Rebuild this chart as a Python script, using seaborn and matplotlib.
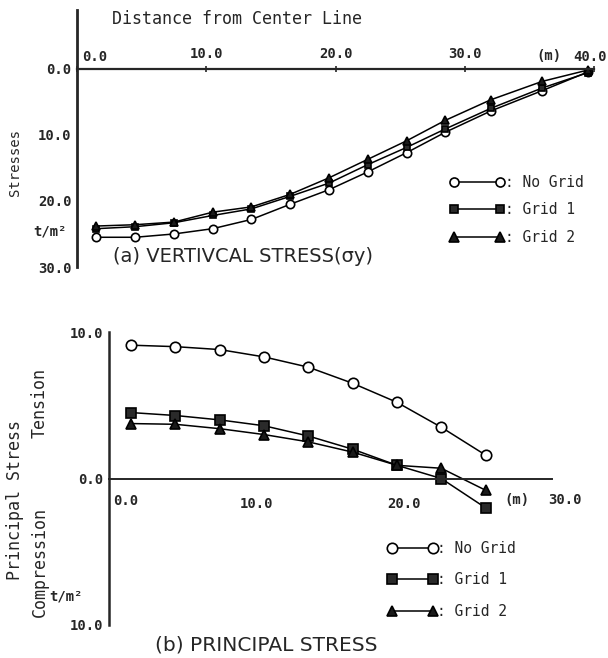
import matplotlib
matplotlib.use("Agg")
import matplotlib.pyplot as plt
import seaborn as sns
import pandas as pd
from matplotlib.lines import Line2D

# values
x_top = [1.5, 4.5, 7.5, 10.5, 13.5, 16.5, 19.5, 22.5, 25.5, 28.5, 32.0, 36.0, 39.5]
no_grid_top = [25.5, 25.5, 25.0, 24.2, 22.8, 20.5, 18.3, 15.6, 12.7, 9.6, 6.4, 3.3, 0.5]
grid1_top = [24.2, 23.9, 23.3, 22.2, 21.2, 19.3, 17.3, 14.5, 11.9, 9.1, 6.0, 2.9, 0.6]
grid2_top = [23.8, 23.6, 23.2, 21.7, 20.9, 19.0, 16.5, 13.7, 10.9, 7.8, 4.7, 1.9, 0.2]

x_bot = [1.5, 4.5, 7.5, 10.5, 13.5, 16.5, 19.5, 22.5, 25.5]
no_grid_bot = [9.1, 9.0, 8.8, 8.3, 7.6, 6.5, 5.2, 3.5, 1.6]
grid1_bot = [4.5, 4.3, 4.0, 3.6, 2.9, 2.0, 0.9, 0.0, -2.0]
grid2_bot = [3.75, 3.7, 3.4, 3.0, 2.5, 1.8, 0.9, 0.7, -0.8]

series_names = ["No Grid", "Grid 1", "Grid 2"]
top_ticks = [0, 10, 20, 30, 40]
bot_ticks = [0, 10, 20, 30]

sns.set_style("white")
plt.rcParams["font.family"] = ["DejaVu Sans Mono", "DejaVu Sans"]

W, H = 608, 658


def styles(size):
    return {
        "No Grid": dict(marker="o", markerfacecolor="white", markeredgecolor="black", markersize=size),
        "Grid 1": dict(marker="s", markerfacecolor="#2a2a2a", markeredgecolor="black", markersize=size - 1),
        "Grid 2": dict(marker="^", markerfacecolor="#1a1a1a", markeredgecolor="black", markersize=size),
    }


def draw_series(ax, x, ys, size):
    st = styles(size)
    for name, y in zip(series_names, ys):
        df = pd.DataFrame({"x": x, "y": y})
        sns.lineplot(data=df, x="x", y="y", ax=ax, color="black", linewidth=1.1,
                     sort=False, markeredgewidth=1.2, clip_on=False, **st[name])


def add_legend(ax, loc, size, hl, spacing):
    st = styles(size)
    handles = [Line2D([0], [0], color="black", linewidth=1.1, markeredgewidth=1.2,
                      **st[n]) for n in series_names]
    ax.legend(handles, [": " + n for n in series_names], loc="center left",
              bbox_to_anchor=loc, bbox_transform=ax.figure.transFigure,
              frameon=False, numpoints=2, handlelength=hl, borderpad=0,
              handletextpad=0.0, labelspacing=spacing,
              prop={"family": "DejaVu Sans Mono", "size": 10.5})


def ftext(x, y, s, **kw):
    # place text by pixel position of the 608x658 picture
    fig.text(x / W, 1 - y / H, s, **kw)


fig = plt.figure(figsize=(6.08, 6.58), dpi=100)

# (a) vertical stress
ax1 = fig.add_axes([77 / W, 1 - 267 / H, 517 / W, 257 / H])
draw_series(ax1, x_top, [no_grid_top, grid1_top, grid2_top], 6)
ax1.set_xlim(0, 40)
ax1.set_ylim(30, -8.9)
for s in ["right", "bottom"]:
    ax1.spines[s].set_visible(False)
ax1.spines["top"].set_position(("data", 0))
ax1.spines["left"].set_linewidth(2.0)
ax1.spines["top"].set_linewidth(1.6)
ax1.xaxis.tick_top()
ax1.set_xticks(top_ticks)
ax1.set_xticklabels(["", "10.0", "20.0", "30.0", ""], fontsize=10, fontweight="bold")
ax1.set_yticks([0, 10, 20, 30])
ax1.set_yticklabels(["0.0", "10.0", "20.0", "30.0"], fontsize=10, fontweight="bold")
ax1.tick_params(axis="x", direction="inout", length=5, width=1.2, pad=3)
ax1.tick_params(axis="y", direction="in", length=2, width=1, pad=4)
ax1.set_xlabel("")
ax1.set_ylabel("")
ftext(82, 57, "0.0", fontsize=10, fontweight="bold", ha="left", va="center")
ftext(573, 57, "40.0", fontsize=10, fontweight="bold", ha="left", va="center")
ftext(549, 56, "(m)", fontsize=10, fontweight="bold", ha="center", va="center")
ftext(112, 19, "Distance from Center Line", fontsize=12, ha="left", va="center")
ftext(50, 232, "t/m²", fontsize=10, fontweight="bold", ha="center", va="center")
ftext(15, 163, "Stresses", fontsize=10, rotation=90, ha="center", va="center")
ftext(113, 256, "(a) VERTIVCAL STRESS(σy)", fontsize=14, family="DejaVu Sans",
      ha="left", va="center")
add_legend(ax1, (442 / W, 1 - 210 / H), 6.5, 3.8, 0.85)

# (b) principal stress
ax2 = fig.add_axes([109 / W, 1 - 625 / H, 443 / W, 293 / H])
draw_series(ax2, x_bot, [no_grid_bot, grid1_bot, grid2_bot], 7.5)
ax2.set_xlim(0, 30)
ax2.set_ylim(-10, 10)
for s in ["right", "top"]:
    ax2.spines[s].set_visible(False)
ax2.spines["bottom"].set_position(("data", 0))
ax2.spines["left"].set_linewidth(1.8)
ax2.spines["bottom"].set_linewidth(1.4)
ax2.set_xticks(bot_ticks)
ax2.set_xticklabels(["", "10.0", "20.0", ""], fontsize=10, fontweight="bold")
ax2.set_yticks([-10, -5, 0, 5, 10])
ax2.set_yticklabels(["10.0", "", "0.0", "", "10.0"], fontsize=10, fontweight="bold")
ax2.tick_params(axis="x", direction="inout", length=7, width=1.2, pad=10)
ax2.tick_params(axis="y", direction="in", length=3, width=1, pad=4)
ax2.set_xlabel("")
ax2.set_ylabel("")
ftext(126, 501, "0.0", fontsize=10, fontweight="bold", ha="center", va="center")
ftext(517, 500, "(m)", fontsize=10, fontweight="bold", ha="center", va="center")
ftext(565, 500, "30.0", fontsize=10, fontweight="bold", ha="center", va="center")
ftext(15, 500, "Principal Stress", fontsize=12, rotation=90, ha="center", va="center")
ftext(40, 403, "Tension", fontsize=12, rotation=90, ha="center", va="center")
ftext(40, 562, "Compression", fontsize=12, rotation=90, ha="center", va="center")
ftext(66, 597, "t/m²", fontsize=10, fontweight="bold", ha="center", va="center")
ftext(155, 645, "(b) PRINCIPAL STRESS", fontsize=14.5, family="DejaVu Sans",
      ha="left", va="center")
add_legend(ax2, (380 / W, 1 - 580 / H), 7.5, 3.4, 1.15)

fig.savefig("out.png", dpi=100)
